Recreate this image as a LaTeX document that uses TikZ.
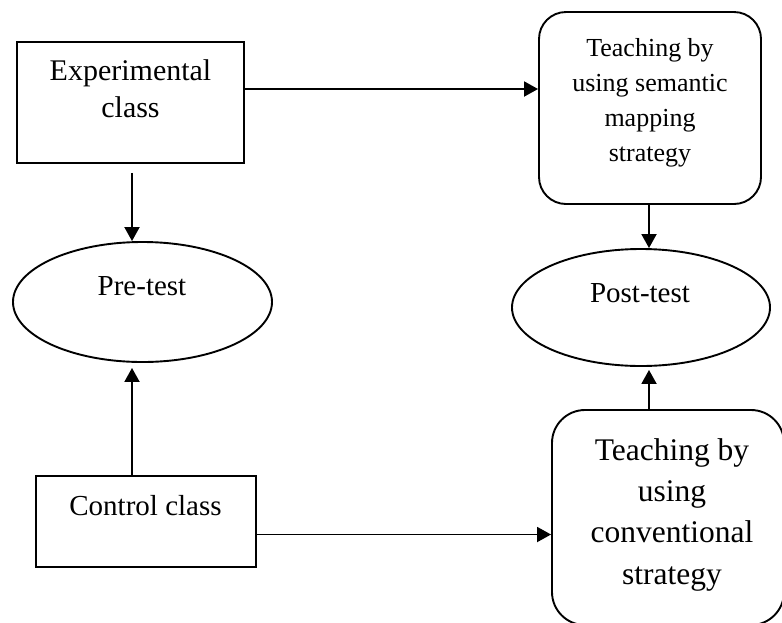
\documentclass[tikz,border=0pt]{standalone}
\usepackage{fontspec}
\setmainfont{Liberation Serif}
\usetikzlibrary{shapes.geometric,arrows.meta}

\tikzset{
  shapeline/.style={draw=black, line width=1.9pt, inner sep=0pt},
  plainbox/.style={shapeline, rectangle},
  roundbox/.style={shapeline, rectangle, rounded corners=#1},
  oval/.style={shapeline, ellipse},
  lbl/.style={align=center, inner sep=0pt, anchor=base},
  arr/.style={line width=1.9pt, -{Triangle[length=14pt,width=15pt]}}
}

\begin{document}
\begin{tikzpicture}[x=1pt, y=-1pt]
  \useasboundingbox (0,0) rectangle (782,622);
  \clip (0,0) rectangle (782,622);

  % shapes
  \node[plainbox, minimum width=227pt, minimum height=121pt] (exp) at (130.5,102.5) {};
  \node[roundbox=27pt, minimum width=222pt, minimum height=192pt] (sem) at (650,108) {};
  \node[oval, minimum width=259pt, minimum height=120pt] (pre) at (142.5,302) {};
  \node[oval, minimum width=258pt, minimum height=117pt] (post) at (641,307.5) {};
  \node[plainbox, minimum width=220pt, minimum height=91pt] (ctrl) at (146,521.5) {};
  \node[roundbox=33pt, minimum width=232pt, minimum height=215pt] (conv) at (668,517.5) {};

  % texts (anchored at the baseline of the last line)
  \node[lbl, font=\fontsize{30}{37}\selectfont] (expt) at (130.5,117) {Experimental\\class};
  \node[lbl, font=\fontsize{26}{34.7}\selectfont] (semt) at (650,161) {Teaching by\\using semantic\\mapping\\strategy};
  \node[lbl, font=\fontsize{29}{35}\selectfont] (pret) at (142,295) {Pre-test};
  \node[lbl, font=\fontsize{29}{35}\selectfont] (postt) at (640,302) {Post-test};
  \node[lbl, font=\fontsize{29}{35}\selectfont] (ctrlt) at (145.5,515) {Control class};
  \node[lbl, font=\fontsize{31.5}{41.3}\selectfont] (convt) at (672,584) {Teaching by\\using\\conventional\\strategy};

  % connectors
  \draw[arr] ([yshift=13.5pt]exp.east) coordinate (e1) -- (e1 -| sem.west);
  \draw[arr] ([xshift=1.5pt,yshift=-9pt]exp.south) coordinate (e2) -- (e2 |- pre.north);
  \draw[arr] (e2 |- ctrl.north) -- ([yshift=-5pt]e2 |- pre.south);
  \draw[arr] (sem.south -| 649,0) coordinate (e3) -- (e3 |- post.north);
  \draw[arr] (e3 |- conv.north) -- ([yshift=-3pt]e3 |- post.south);
  \draw[arr] ([yshift=-13pt]ctrl.east) coordinate (e4) -- (e4 -| conv.west);
\end{tikzpicture}
\end{document}
